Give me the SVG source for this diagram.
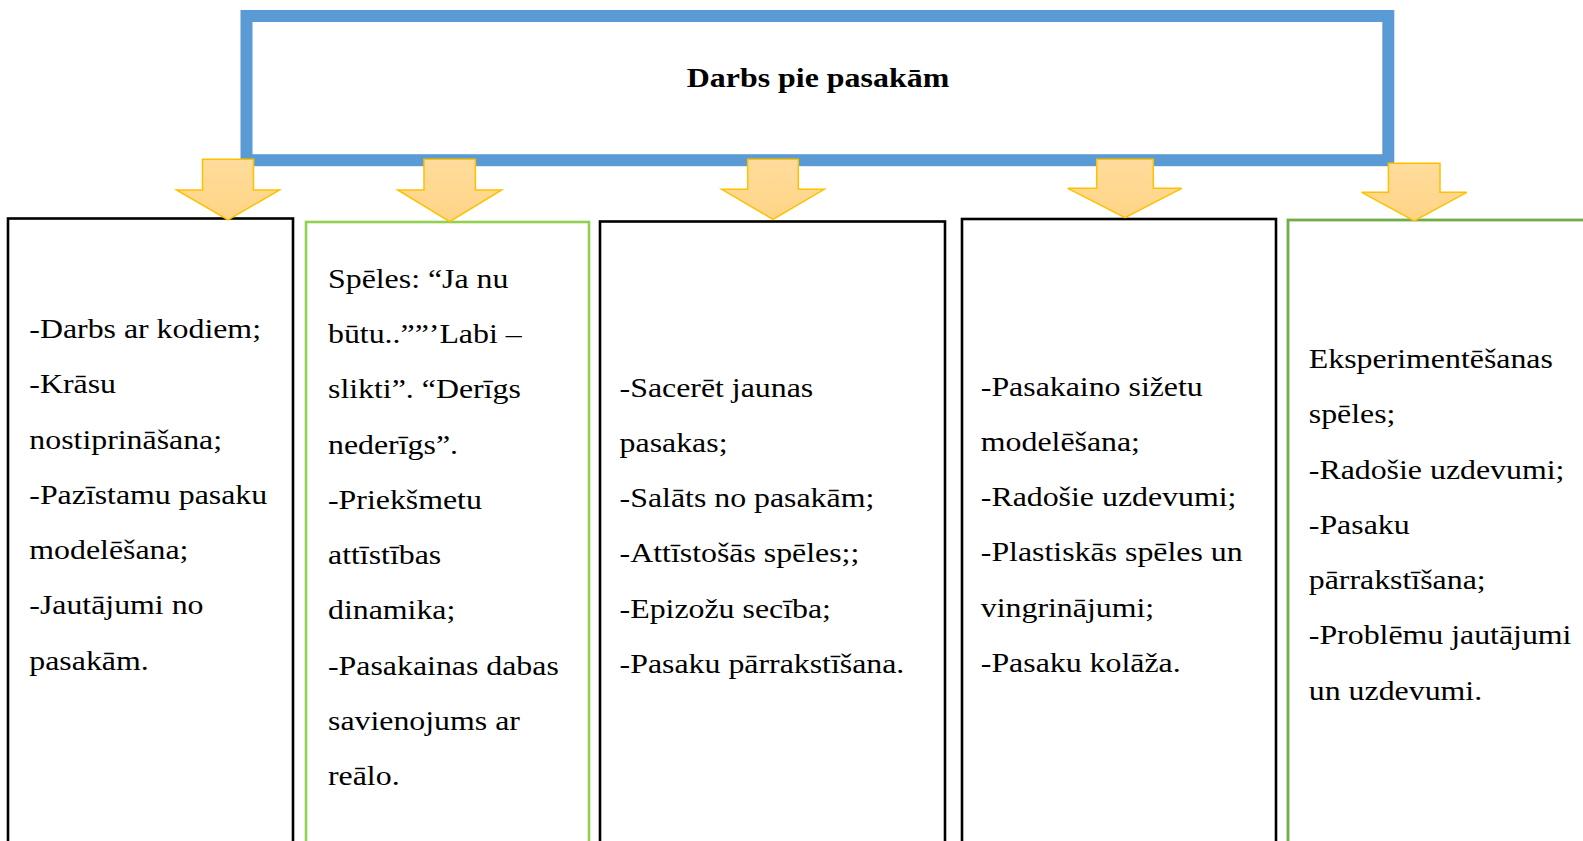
<svg xmlns="http://www.w3.org/2000/svg" width="1583" height="841" viewBox="0 0 1583 841">
<defs>
<linearGradient id="ag" x1="0" y1="0" x2="0" y2="1">
<stop offset="0" stop-color="#FFDC9C"/>
<stop offset="1" stop-color="#FFD486"/>
</linearGradient>
<style>
.frame{fill:#fff;stroke:#5B9BD5;stroke-width:12}
.bk{fill:#fff;stroke:#000;stroke-width:2.6}
.g1{fill:#fff;stroke:#92D050;stroke-width:2.6}
.g2{fill:#fff;stroke:#70AD47;stroke-width:2.8}
.arr{fill:url(#ag);stroke:#FFC000;stroke-width:1.5;stroke-linejoin:miter}
.t{font-family:"Liberation Serif","Times New Roman",serif;font-size:27px;fill:#000}
.title{font-family:"Liberation Serif","Times New Roman",serif;font-size:28px;font-weight:bold;fill:#000}
</style>
</defs>
<rect width="1583" height="841" fill="#fff"/>
<g id="top">
<rect class="frame" x="246.5" y="16" width="1141.8" height="144.2"/>
<text class="title" text-anchor="middle" transform="translate(818 87) scale(1.14 1)">Darbs pie pasakām</text>
</g>
<g id="box1">
<rect class="bk" x="8" y="218.5" width="285" height="640"/>
<text class="t" transform="translate(29.3 338) scale(1.18 1)"><tspan x="0" y="0">-Darbs ar kodiem;</tspan><tspan x="0" dy="55.3">-Krāsu</tspan><tspan x="0" dy="55.3">nostiprināšana;</tspan><tspan x="0" dy="55.3">-Pazīstamu pasaku</tspan><tspan x="0" dy="55.3">modelēšana;</tspan><tspan x="0" dy="55.3">-Jautājumi no</tspan><tspan x="0" dy="55.3">pasakām.</tspan></text>
</g>
<g id="box2">
<rect class="g1" x="306" y="222" width="283" height="640"/>
<text class="t" transform="translate(328 287.7) scale(1.18 1)"><tspan x="0" y="0">Spēles: “Ja nu</tspan><tspan x="0" dy="55.3">būtu..””’Labi –</tspan><tspan x="0" dy="55.3">slikti”. “Derīgs</tspan><tspan x="0" dy="55.3">nederīgs”.</tspan><tspan x="0" dy="55.3">-Priekšmetu</tspan><tspan x="0" dy="55.3">attīstības</tspan><tspan x="0" dy="55.3">dinamika;</tspan><tspan x="0" dy="55.3">-Pasakainas dabas</tspan><tspan x="0" dy="55.3">savienojums ar</tspan><tspan x="0" dy="55.3">reālo.</tspan></text>
</g>
<g id="box3">
<rect class="bk" x="600" y="221.5" width="345" height="640"/>
<text class="t" transform="translate(619.6 396.5) scale(1.18 1)"><tspan x="0" y="0">-Sacerēt jaunas</tspan><tspan x="0" dy="55.3">pasakas;</tspan><tspan x="0" dy="55.3">-Salāts no pasakām;</tspan><tspan x="0" dy="55.3">-Attīstošās spēles;;</tspan><tspan x="0" dy="55.3">-Epizožu secība;</tspan><tspan x="0" dy="55.3">-Pasaku pārrakstīšana.</tspan></text>
</g>
<g id="box4">
<rect class="bk" x="962" y="219" width="314" height="640"/>
<text class="t" transform="translate(980.8 395.5) scale(1.18 1)"><tspan x="0" y="0">-Pasakaino sižetu</tspan><tspan x="0" dy="55.3">modelēšana;</tspan><tspan x="0" dy="55.3">-Radošie uzdevumi;</tspan><tspan x="0" dy="55.3">-Plastiskās spēles un</tspan><tspan x="0" dy="55.3">vingrinājumi;</tspan><tspan x="0" dy="55.3">-Pasaku kolāža.</tspan></text>
</g>
<g id="box5">
<rect class="g2" x="1288" y="220" width="320" height="640"/>
<text class="t" transform="translate(1308.8 368) scale(1.18 1)"><tspan x="0" y="0">Eksperimentēšanas</tspan><tspan x="0" dy="55.3">spēles;</tspan><tspan x="0" dy="55.3">-Radošie uzdevumi;</tspan><tspan x="0" dy="55.3">-Pasaku</tspan><tspan x="0" dy="55.3">pārrakstīšana;</tspan><tspan x="0" dy="55.3">-Problēmu jautājumi</tspan><tspan x="0" dy="55.3">un uzdevumi.</tspan></text>
</g>
<g id="connectors">
<polygon class="arr" points="202.5,159.3 253.5,159.3 253.5,190 279.5,190 228,220 176.5,190 202.5,190"/>
<polygon class="arr" points="424,159.3 475.4,159.3 475.4,190 501.7,190 449.7,221.7 397.7,190 424,190"/>
<polygon class="arr" points="747.7,159.3 798.3,159.3 798.3,189.3 824.3,189.3 773,219.3 721.7,189.3 747.7,189.3"/>
<polygon class="arr" points="1096.7,159.3 1153.3,159.3 1153.3,188.3 1181.7,188.3 1125,217.7 1067.8,188.3 1096.7,188.3"/>
<polygon class="arr" points="1388.4,163.3 1440,163.3 1440,192.3 1466.7,192.3 1414.2,221 1361.7,192.3 1388.4,192.3"/>
</g>
</svg>
